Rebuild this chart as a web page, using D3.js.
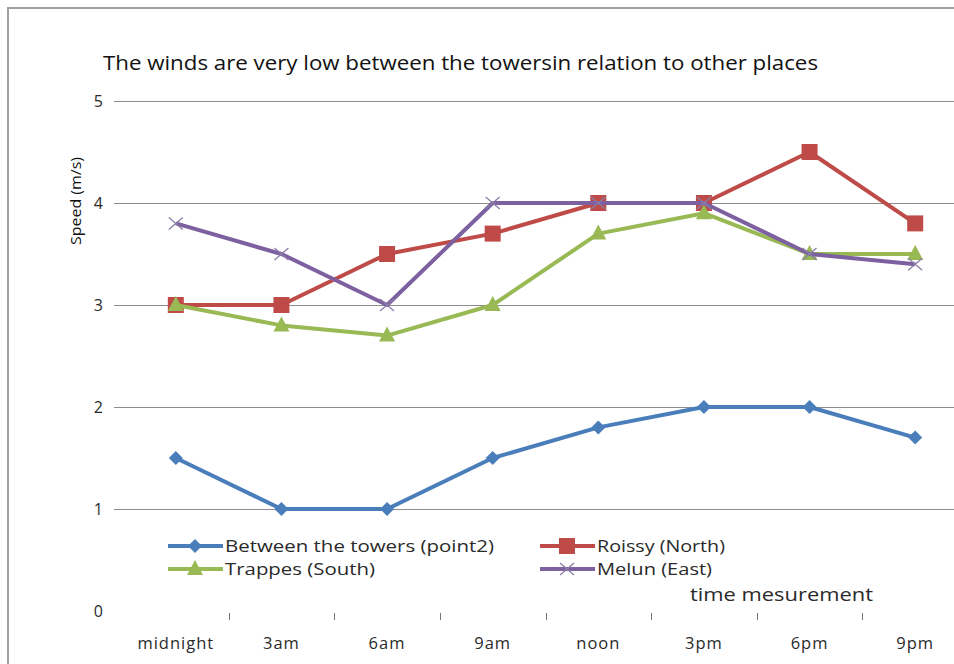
<!DOCTYPE html>
<html>
<head>
<meta charset="utf-8">
<script src="https://cdn.jsdelivr.net/npm/d3@7"></script>
<style>
  html, body { margin: 0; padding: 0; background: #fff; }
  svg { display: block; font-family: "Open Sans", Lato, sans-serif; }
</style>
</head>
<body>
<svg id="chart" width="954" height="664"></svg>
<script>
// Hourly wind speed readings (m/s) at four measuring sites
const times = ["midnight", "3am", "6am", "9am", "noon", "3pm", "6pm", "9pm"];
const betweenTowers = [1.5, 1.0, 1.0, 1.5, 1.8, 2.0, 2.0, 1.7];
const roissy = [3.0, 3.0, 3.5, 3.7, 4.0, 4.0, 4.5, 3.8];
const trappes = [3.0, 2.8, 2.7, 3.0, 3.7, 3.9, 3.5, 3.5];
const melun = [3.8, 3.5, 3.0, 4.0, 4.0, 4.0, 3.5, 3.4];
const yTicks = [0, 1, 2, 3, 4, 5];

const seriesNames = ["Between the towers (point2)", "Roissy (North)", "Trappes (South)", "Melun (East)"];
const seriesColors = ["#4a7ebb", "#be4b48", "#98b954", "#7d60a0"];
const seriesMarkers = ["diamond", "square", "triangle", "cross"];
const seriesValues = [betweenTowers, roissy, trappes, melun];

const series = seriesNames.map((name, i) => ({
  name, color: seriesColors[i], marker: seriesMarkers[i], values: seriesValues[i]
}));

const svg = d3.select("#chart");
const textColor = "#2a2a2a";

// outer frame (top and left edges are visible)
svg.append("line").attr("x1", 7).attr("x2", 954).attr("y1", 8).attr("y2", 8)
  .attr("stroke", "#a0a0a0").attr("stroke-width", 2);
svg.append("line").attr("x1", 8).attr("x2", 8).attr("y1", 7).attr("y2", 664)
  .attr("stroke", "#a0a0a0").attr("stroke-width", 2);

const x = d3.scaleBand().domain(times).range([123, 968]);
const y = d3.scaleLinear().domain([0, 5]).range([611, 101]);
const cx = d => x(d) + x.bandwidth() / 2;

// horizontal gridlines (no line at zero)
svg.append("g").selectAll("line").data(yTicks.filter(t => t > 0)).join("line")
  .attr("x1", 114).attr("x2", 954)
  .attr("y1", d => Math.round(y(d)) + 0.5).attr("y2", d => Math.round(y(d)) + 0.5)
  .attr("stroke", "#8c8c8c").attr("stroke-width", 1.2);

// y tick labels
svg.append("g").selectAll("text").data(yTicks).join("text")
  .attr("x", 103).attr("y", d => y(d)).attr("dy", "0.35em")
  .attr("text-anchor", "end").attr("font-size", 16).attr("fill", textColor)
  .text(d => d);

// x axis ticks between categories
svg.append("g").selectAll("line").data(times.slice(1)).join("line")
  .attr("x1", d => Math.round(x(d)) + 0.5).attr("x2", d => Math.round(x(d)) + 0.5)
  .attr("y1", 613).attr("y2", 620)
  .attr("stroke", "#777").attr("stroke-width", 1);

// x category labels
svg.append("g").selectAll("text").data(times).join("text")
  .attr("x", d => cx(d)).attr("y", 649)
  .attr("text-anchor", "middle").attr("font-size", 16.5).attr("fill", textColor)
  .attr("letter-spacing", "1px")
  .text(d => d);

// title
svg.append("text").attr("x", 103).attr("y", 70)
  .attr("font-size", 19.5).attr("fill", "#111")
  .attr("textLength", 715).attr("lengthAdjust", "spacingAndGlyphs")
  .text("The winds are very low between the towersin relation to other places");

// axis titles
svg.append("text")
  .attr("transform", "translate(81,201) rotate(-90)")
  .attr("text-anchor", "middle").attr("font-size", 14).attr("fill", "#111")
  .attr("textLength", 88).attr("lengthAdjust", "spacingAndGlyphs")
  .text("Speed (m/s)");
svg.append("text").attr("x", 690).attr("y", 601)
  .attr("font-size", 18).attr("fill", textColor)
  .attr("textLength", 183).attr("lengthAdjust", "spacingAndGlyphs")
  .text("time mesurement");

// marker drawing
function drawMarker(g, type, color, px, py) {
  if (type === "diamond") {
    g.append("path").attr("d", `M${px},${py - 7}L${px + 7},${py}L${px},${py + 7}L${px - 7},${py}Z`)
      .attr("fill", color);
  } else if (type === "square") {
    g.append("rect").attr("x", px - 8).attr("y", py - 8).attr("width", 16).attr("height", 16)
      .attr("fill", color);
  } else if (type === "triangle") {
    g.append("path").attr("d", `M${px},${py - 9}L${px + 8},${py + 6}L${px - 8},${py + 6}Z`)
      .attr("fill", color);
  } else {
    g.append("path").attr("d", `M${px - 7},${py - 6}L${px + 7},${py + 6}M${px - 7},${py + 6}L${px + 7},${py - 6}`)
      .attr("stroke", "#8a7ea8").attr("stroke-width", 1.3).attr("fill", "none");
  }
}

const line = d3.line().x((d, i) => cx(times[i])).y(d => y(d));

const plot = svg.append("g");
series.forEach(s => {
  const g = plot.append("g");
  g.append("path").datum(s.values).attr("d", line)
    .attr("fill", "none").attr("stroke", s.color).attr("stroke-width", 4)
    .attr("stroke-linejoin", "round");
  s.values.forEach((v, i) => drawMarker(g, s.marker, s.color, cx(times[i]), y(v)));
});

// legend
const legendPos = [[168, 546], [540, 546], [168, 569], [540, 569]];
const legendWidths = [269, 128, 150, 115];
series.forEach((s, i) => {
  const [lx, ly] = legendPos[i];
  const g = svg.append("g");
  g.append("line").attr("x1", lx).attr("x2", lx + 55).attr("y1", ly).attr("y2", ly)
    .attr("stroke", s.color).attr("stroke-width", 4);
  drawMarker(g, s.marker, s.color, lx + 27, ly);
  g.append("text").attr("x", lx + 57).attr("y", ly).attr("dy", "0.36em")
    .attr("font-size", 16.5).attr("fill", textColor)
    .attr("textLength", legendWidths[i]).attr("lengthAdjust", "spacingAndGlyphs")
    .text(s.name);
});
</script>
</body>
</html>
